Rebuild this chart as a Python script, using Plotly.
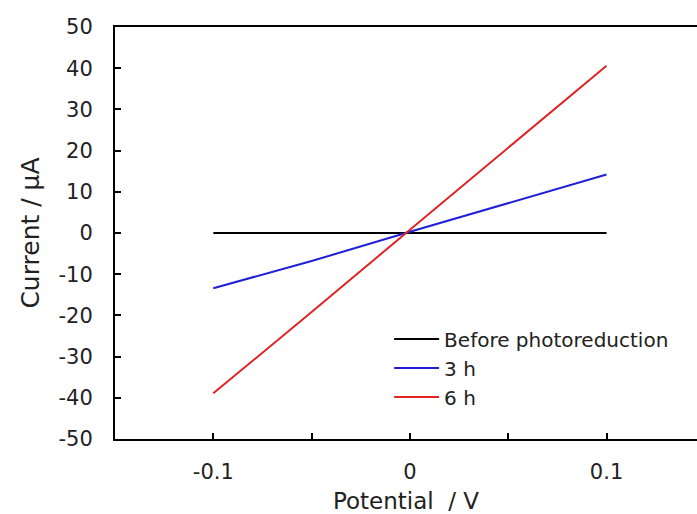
import plotly.graph_objects as go

potential = [-0.1, -0.05, 0.0, 0.05, 0.1]
before = [0.0, 0.0, 0.0, 0.0, 0.0]
h3 = [-13.4, -6.8, 0.3, 7.3, 14.2]
h6 = [-38.9, -19.2, 0.8, 20.6, 40.6]

names = ["Before photoreduction", "3 h", "6 h"]
colors = ["#000000", "#1f1fd6", "#e02424"]

x_tickvals = [-0.1, -0.05, 0, 0.05, 0.1]
x_ticktext = ["-0.1", "", "0", "", "0.1"]
y_tickvals = list(range(-50, 51, 10))
y_ticktext = [str(v) for v in y_tickvals]

fig = go.Figure()
for name, ys, c in zip(names, [before, h3, h6], colors):
    fig.add_trace(go.Scatter(x=potential, y=ys, mode="lines", name=name,
                             line=dict(color=c, width=2)))

fam = "DejaVu Sans, Liberation Sans, Arial, sans-serif"
fig.update_layout(
    width=697, height=514,
    margin=dict(l=115, r=0, t=27, b=75),
    paper_bgcolor="white", plot_bgcolor="white",
    font=dict(family=fam, size=21, color="#222222"),
    showlegend=True,
    legend=dict(x=0.471, y=0.29, xanchor="left", yanchor="top",
                bgcolor="rgba(0,0,0,0)", font=dict(size=20, family=fam, color="#222222"),
                tracegroupgap=0, itemwidth=45),
)
fig.update_xaxes(range=[-0.15, 0.146], showline=True, linecolor="black", linewidth=2,
                 mirror=True, ticks="inside", ticklen=6, tickwidth=2, tickcolor="black",
                 tickvals=x_tickvals, ticktext=x_ticktext,
                 showgrid=False, zeroline=False, ticklabelstandoff=13,
                 tickfont=dict(size=21),
                 title=dict(text="Potential  / V", standoff=11, font=dict(size=23)))
fig.update_yaxes(range=[-50, 50], showline=True, linecolor="black", linewidth=2,
                 ticks="inside", ticklen=6, tickwidth=2, tickcolor="black",
                 tickvals=y_tickvals, ticktext=y_ticktext, showgrid=False, zeroline=False,
                 ticklabelstandoff=16, tickfont=dict(size=21),
                 title=dict(text="Current / µA", standoff=12, font=dict(size=25)))
fig.write_html("out.html")
